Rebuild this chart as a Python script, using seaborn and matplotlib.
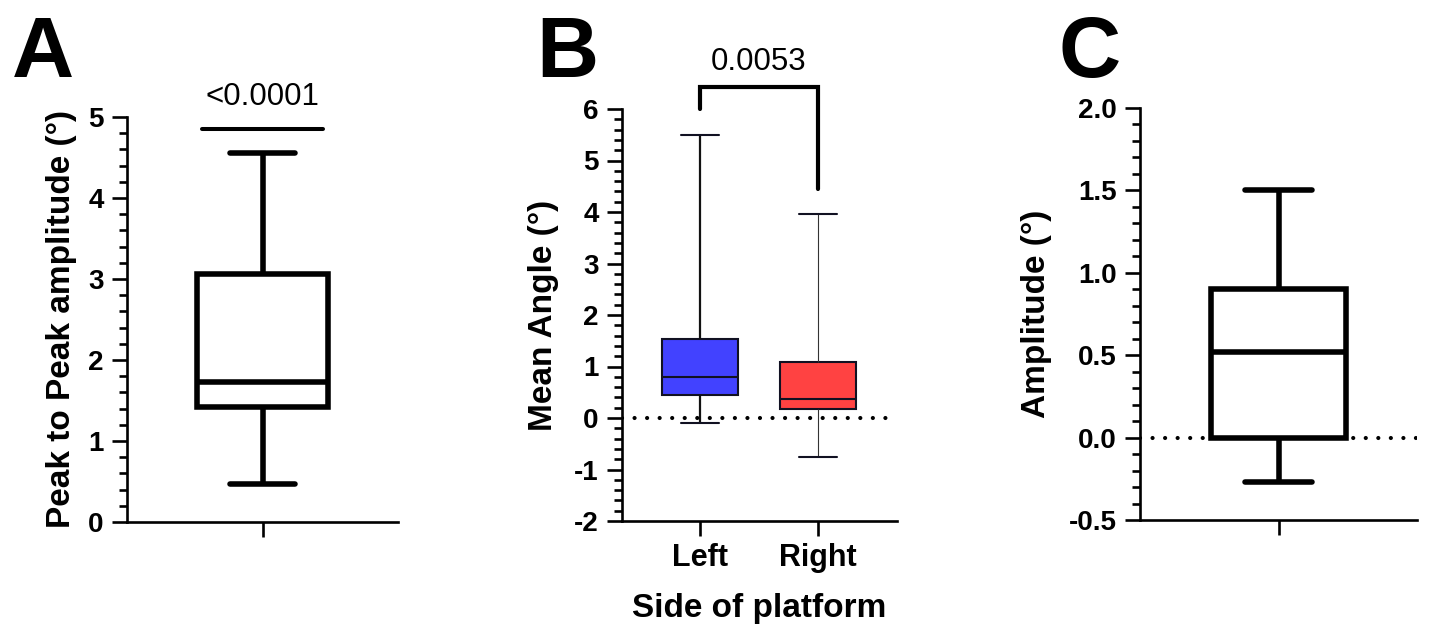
import numpy as np
import pandas as pd
import matplotlib
matplotlib.use("Agg")
import matplotlib.pyplot as plt
import seaborn as sns
from matplotlib.ticker import MultipleLocator

# Five-number summaries: min, Q1, median, Q3, max
peak_to_peak = [0.47, 1.42, 1.73, 3.06, 4.55]
left_angle = [-0.09, 0.45, 0.79, 1.54, 5.49]
right_angle = [-0.75, 0.18, 0.37, 1.08, 3.97]
amplitude = [-0.27, 0.00, 0.52, 0.90, 1.50]

sides = ["Left", "Right"]
side_colours = ["#4242FF", "#FF4242"]

p_text_a = "<0.0001"
p_text_b = "0.0053"

sns.set_style("ticks")
plt.rcParams["font.family"] = ["Liberation Sans", "DejaVu Sans"]
plt.rcParams["font.weight"] = "bold"
plt.rcParams["axes.labelweight"] = "bold"
plt.rcParams["axes.unicode_minus"] = False
for key in ["text.color", "axes.labelcolor", "xtick.color", "ytick.color", "axes.edgecolor"]:
    plt.rcParams[key] = "black"

W, H = 1429, 636
fig = plt.figure(figsize=(W / 100, H / 100), dpi=100)


def add_panel(left, top, right, bottom):
    return fig.add_axes([left / W, 1 - bottom / H, (right - left) / W, (bottom - top) / H])


def style_axes(ax, ticks, labels, minor):
    for s in ["top", "right"]:
        ax.spines[s].set_visible(False)
    for s in ["left", "bottom"]:
        ax.spines[s].set_linewidth(1.9)
        ax.spines[s].set_color("black")
    ax.set_yticks(ticks, labels)
    ax.yaxis.set_minor_locator(MultipleLocator(minor))
    ax.tick_params(axis="both", which="major", length=10.8, width=1.9, color="black")
    ax.tick_params(axis="y", which="minor", length=5.8, width=1.9, color="black")
    ax.tick_params(axis="x", which="minor", bottom=False)
    ax.tick_params(axis="y", labelsize=20, pad=6)
    ax.tick_params(axis="x", labelsize=22, pad=5)


def dotted_zero(ax):
    ax.axhline(0, color="black", lw=3, ls=(0, (0.01, 3.0)),
               dash_capstyle="round", zorder=0.5)


# ---------- A ----------
ax_a = add_panel(127, 117, 398, 522)
df_a = pd.DataFrame({"group": [""] * len(peak_to_peak), "value": peak_to_peak})
sns.boxplot(data=df_a, x="group", y="value", ax=ax_a, whis=(0, 100), width=0.487,
            color="white", linecolor="black", linewidth=4, saturation=1, fliersize=0)
ax_a.set_xlim(-0.5, 0.5)
ax_a.set_ylim(0, 5)
style_axes(ax_a, np.arange(0, 6), [str(i) for i in range(6)], 0.2)
ax_a.set_xticks([0], [""])
ax_a.set_xlabel("")
ax_a.set_ylabel("Peak to Peak amplitude (°)", fontsize=24, fontweight="bold")
ax_a.yaxis.set_label_coords(-0.184, 0.5)
ax_a.plot([-0.223, 0.223], [4.85, 4.85], color="black", lw=2.9, clip_on=False)
ax_a.text(0, 5.15, p_text_a, ha="center", va="baseline", fontsize=22.5,
          fontweight="normal", clip_on=False)

# ---------- B ----------
ax_b = add_panel(622, 109, 897, 521)
for side, vals, col, wlw, wcol in zip(sides, [left_angle, right_angle], side_colours,
                                      [1.6, 0.8], ["#111111", "#333333"]):
    sub = pd.DataFrame({"side": [side] * len(vals), "angle": vals})
    sns.boxplot(data=sub, x="side", y="angle", order=sides, ax=ax_b, whis=(0, 100),
                width=0.644, color=col, linecolor="#111122", linewidth=1.5,
                saturation=1, fliersize=0,
                whiskerprops={"linewidth": wlw, "color": wcol})
ax_b.set_xlim(-0.661, 1.669)
ax_b.set_ylim(-2, 6)
style_axes(ax_b, np.arange(-2, 7), [str(i) for i in range(-2, 7)], 0.2)
ax_b.set_xticks([0, 1], sides)
dotted_zero(ax_b)
ax_b.set_ylabel("Mean Angle (°)", fontsize=24, fontweight="bold")
ax_b.yaxis.set_label_coords(-0.229, 0.5)
ax_b.set_xlabel("Side of platform", fontsize=24, fontweight="bold")
ax_b.xaxis.set_label_coords(0.5, -0.175)
ax_b.plot([0, 0, 1, 1], [6.0, 6.42, 6.42, 4.45], color="black", lw=3,
          clip_on=False, solid_joinstyle="miter")
ax_b.text(0.5, 6.76, p_text_b, ha="center", va="baseline", fontsize=22.5,
          fontweight="normal", clip_on=False)

# ---------- C ----------
ax_c = add_panel(1140, 108, 1417, 520)
df_c = pd.DataFrame({"group": [""] * len(amplitude), "value": amplitude})
sns.boxplot(data=df_c, x="group", y="value", ax=ax_c, whis=(0, 100), width=0.484,
            color="white", linecolor="black", linewidth=4, saturation=1, fliersize=0)
ax_c.set_xlim(-0.5, 0.5)
ax_c.set_ylim(-0.5, 2.0)
c_ticks = [-0.5, 0.0, 0.5, 1.0, 1.5, 2.0]
style_axes(ax_c, c_ticks, [f"{t:.1f}" for t in c_ticks], 0.1)
ax_c.set_xticks([0], [""])
ax_c.set_xlabel("")
dotted_zero(ax_c)
ax_c.set_ylabel("Amplitude (°)", fontsize=24, fontweight="bold")
ax_c.yaxis.set_label_coords(-0.317, 0.5)

# panel letters
for x, letter in [(12, "A"), (536, "B"), (1058, "C")]:
    fig.text(x / W, 1 - 77 / H, letter, fontsize=62, fontweight="bold", va="baseline")

fig.savefig("out.png", dpi=100)
